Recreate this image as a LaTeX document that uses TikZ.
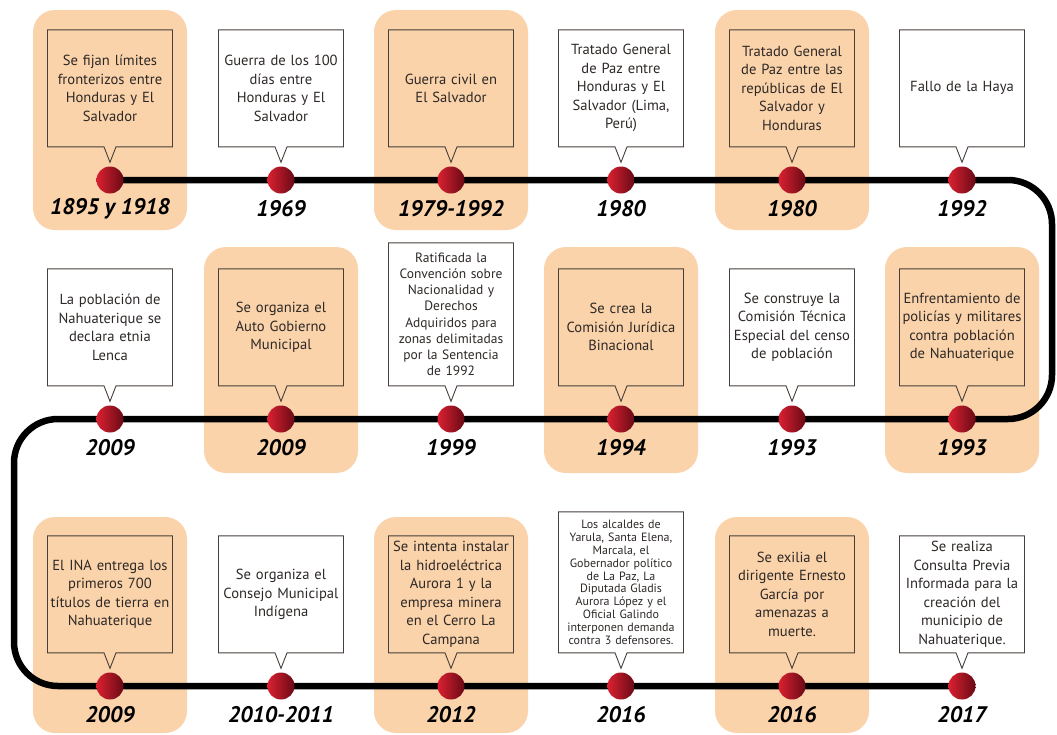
\documentclass[tikz,border=0pt]{standalone}
\usepackage{fontspec}
\setmainfont{PT Sans}
\usetikzlibrary{positioning,shapes.callouts}
\definecolor{durazno}{RGB}{250,211,170}
\definecolor{borde}{RGB}{70,62,58}
\definecolor{texto}{RGB}{45,40,38}
\definecolor{rojoclaro}{RGB}{218,32,48}
\definecolor{rojooscuro}{RGB}{105,10,22}
\tikzset{% styles for the timeline
   fondo/.style={fill=durazno, rounded corners=22pt},
   linea/.style={line width=6.5pt, black, rounded corners=44pt},
   punto/.style={circle, minimum size=27pt, inner sep=0pt,
                 left color=rojoclaro, right color=rojooscuro},
   caja/.style={rectangle callout, draw=borde, line width=0.9pt,
                callout pointer width=12pt, text=texto,
                text width=119pt, inner xsep=3pt, align=center,
                minimum height=117pt,
                font=\fontsize{14.6}{18.5}\selectfont},
   anio/.style={font=\fontsize{22.5}{25}\selectfont\bfseries\itshape, text=black}
}
\begin{document}
\begin{tikzpicture}[x=1pt, y=-1pt]
  \useasboundingbox (0,0) rectangle (1057,734);
  % points of the timeline, in the order of the dates
  \foreach \n/\x/\y in {1/110/180, 2/281/180, 3/451/180, 4/621/180, 5/792/180, 6/962/180,
                        7/962/419, 8/792/419, 9/621/419, 10/451/419, 11/281/419, 12/110/419,
                        13/110/686, 14/281/686, 15/451/686, 16/621/686, 17/792/686, 18/962/686}
     \coordinate (p\n) at (\x,\y);
  % the peach backgrounds
  \foreach \x/\ya/\yb in {110/10/230, 451/10/230, 792/10/230,
                          281/247/473, 621/247/473, 962/247/473,
                          110/517/733, 451/517/733, 792/517/733}
     \fill[fondo] (\x-77,\ya) rectangle (\x+77,\yb);
  % the line
  \coordinate (esq1) at (1052,180);
  \coordinate (esq2) at (1052,419);
  \coordinate (esq3) at (14,419);
  \coordinate (esq4) at (14,686);
  \draw[linea] (p1) -- (p6) -- (esq1) -- (esq2) -- (p7) -- (p12)
               -- (esq3) -- (esq4) -- (p13) -- (p18);
  \foreach \n in {1,...,18}
     \node[punto] (d\n) at (p\n) {};
  % the years
  \foreach \n/\t in {1/1895 y 1918, 2/1969, 3/1979-1992, 4/1980, 5/1980, 6/1992,
                     7/1993, 8/1993, 9/1994, 10/1999, 11/2009, 12/2009,
                     13/2009, 14/2010-2011, 15/2012, 16/2016, 17/2016, 18/2017}
     \node[anio] (a\n) at ([yshift=-29pt]p\n) {\t};
  % the boxes
  \foreach \n/\txt in {1/{Se fijan límites\\fronterizos entre\\Honduras y El\\Salvador},
        2/{Guerra de los 100\\días entre\\Honduras y El\\Salvador},
        3/{Guerra civil en\\El Salvador},
        4/{Tratado General\\de Paz entre\\Honduras y El\\Salvador (Lima,\\Perú)},
        5/{Tratado General\\de Paz entre las\\repúblicas de El\\Salvador y\\Honduras},
        6/{Fallo de la Haya},
        7/{Enfrentamiento de\\policías y militares\\contra población\\de Nahuaterique},
        8/{Se construye la\\Comisión Técnica\\Especial del censo\\de población},
        9/{Se crea la\\Comisión Jurídica\\Binacional},
        11/{Se organiza el\\Auto Gobierno\\Municipal},
        12/{La población de\\Nahuaterique se\\declara etnia\\Lenca},
        13/{El INA entrega los\\primeros 700\\títulos de tierra en\\Nahuaterique},
        14/{Se organiza el\\Consejo Municipal\\Indígena},
        15/{Se intenta instalar\\la hidroeléctrica\\Aurora 1 y la\\empresa minera\\en el Cerro La\\Campana},
        17/{Se exilia el\\dirigente Ernesto\\García por\\amenazas a\\muerte.},
        18/{Se realiza\\Consulta Previa\\Informada para la\\creación del\\municipio de\\Nahuaterique.}}
     \node[caja, above=19pt of d\n, callout absolute pointer={([yshift=4pt]d\n.north)}] (c\n) {\txt};
  \node[caja, minimum height=143pt, font=\fontsize{13.5}{16.2}\selectfont,
        above=19pt of d10, callout absolute pointer={([yshift=4pt]d10.north)}] (c10)
       {Ratificada la\\Convención sobre\\Nacionalidad y\\Derechos\\Adquiridos para\\zonas delimitadas\\por la Sentencia\\de 1992};
  \node[caja, minimum height=141pt, font=\fontsize{12}{12.9}\selectfont,
        above=19pt of d16, callout absolute pointer={([yshift=4pt]d16.north)}] (c16)
       {Los alcaldes de\\Yarula, Santa Elena,\\Marcala, el\\Gobernador político\\de La Paz, La\\Diputada Gladis\\Aurora López y el\\Oficial Galindo\\interponen demanda\\contra 3 defensores.};
\end{tikzpicture}
\end{document}
